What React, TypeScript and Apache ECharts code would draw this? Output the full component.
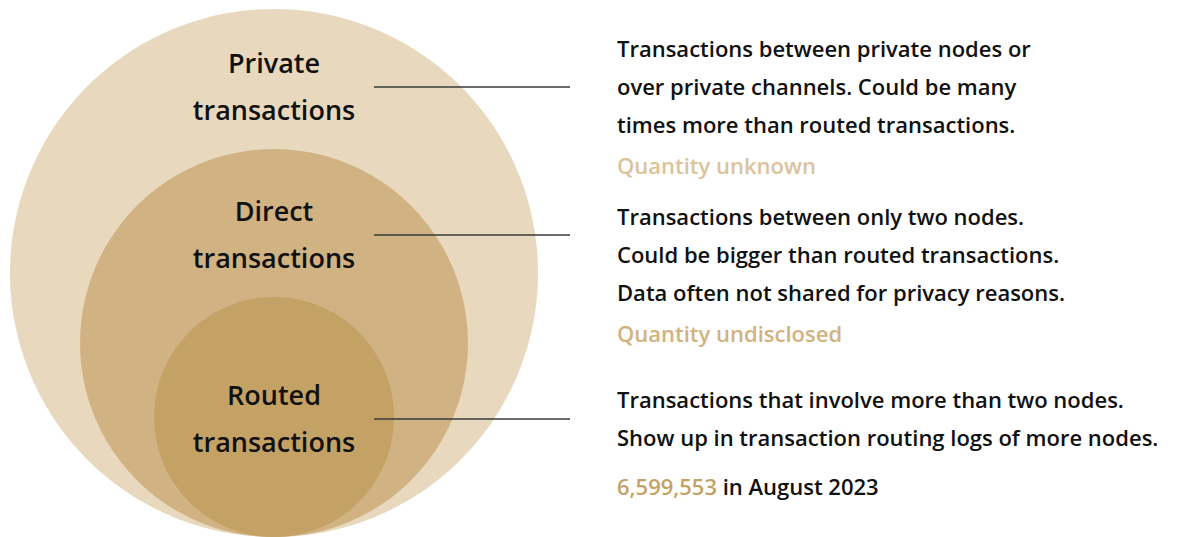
import React, { useEffect, useRef } from "react";
import * as echarts from "echarts";

const categories = ["Private", "Direct", "Routed"];
const categoryLabels = ["Private\ntransactions", "Direct\ntransactions", "Routed\ntransactions"];
const descriptions = [
  ["Transactions between private nodes or", "over private channels. Could be many", "times more than routed transactions."],
  ["Transactions between only two nodes.", "Could be bigger than routed transactions.", "Data often not shared for privacy reasons."],
  ["Transactions that involve more than two nodes.", "Show up in transaction routing logs of more nodes."],
];
const quantityNotes = ["Quantity unknown", "Quantity undisclosed", ""];
const routedCount = "6,599,553";
const routedPeriod = " in August 2023";

// layout
const CX = 274;
const BOTTOM = 537;
const RADII = [264, 194, 120];
const FILLS = ["#E8D9BE", "#D0B283", "#C4A266"];
const LABEL_Y = [62, 210, 394];
const LINE_Y = [87, 235, 419];
const DESC_Y = [48, 216, 399];
const LINE_GAP = 38;
const NOTE_COLORS = ["#DCC39A", "#D2B27E", "#C4A266"];
const FONT = "'Open Sans', 'Noto Sans', sans-serif";
const DESC_FONT = `600 22px ${FONT}`;
const LABEL_FONT = `600 27px ${FONT}`;

export default function App() {
  const ref = useRef<HTMLDivElement>(null);
  useEffect(() => {
    document.body.style.margin = "0";
    const chart = echarts.init(ref.current!, null, { renderer: "svg" });
    const elements: any[] = [];
    categories.forEach((c, i) => {
      elements.push({
        type: "circle",
        shape: { cx: CX, cy: BOTTOM - RADII[i], r: RADII[i] },
        style: { fill: FILLS[i] },
        z: i,
      });
    });
    categories.forEach((c, i) => {
      const lines = categoryLabels[i].split("\n");
      lines.forEach((t, j) => {
        elements.push({
          type: "text",
          x: CX,
          y: LABEL_Y[i] + j * 47,
          z: 10,
          style: {
            text: t,
            fill: "#111",
            font: LABEL_FONT,
            align: "center",
            verticalAlign: "middle",
          },
        });
      });
      elements.push({
        type: "line",
        z: 10,
        shape: { x1: 374, y1: LINE_Y[i], x2: 570, y2: LINE_Y[i] },
        style: { stroke: "#3a3a3a", lineWidth: 1.5 },
      });
      descriptions[i].forEach((t, j) => {
        elements.push({
          type: "text",
          x: 617,
          y: DESC_Y[i] + j * LINE_GAP,
          z: 10,
          style: {
            text: t,
            fill: "#111",
            font: DESC_FONT,
            align: "left",
            verticalAlign: "middle",
          },
        });
      });
      const noteY = DESC_Y[i] + (descriptions[i].length - 1) * LINE_GAP + 41;
      if (quantityNotes[i]) {
        elements.push({
          type: "text",
          x: 617,
          y: noteY,
          z: 10,
          style: {
            text: quantityNotes[i],
            fill: NOTE_COLORS[i],
            font: DESC_FONT,
            align: "left",
            verticalAlign: "middle",
          },
        });
      } else {
        elements.push({
          type: "text",
          x: 617,
          y: noteY + 8,
          z: 10,
          style: {
            text: `{a|${routedCount}}{b|${routedPeriod}}`,
            align: "left",
            verticalAlign: "middle",
            rich: {
              a: { fill: NOTE_COLORS[i], font: DESC_FONT },
              b: { fill: "#111", font: DESC_FONT },
            },
          },
        });
      }
    });
    chart.setOption({
      animation: false,
      backgroundColor: "#ffffff",
      graphic: { elements },
    });
    return () => chart.dispose();
  }, []);
  return <div ref={ref} style={{ width: 1179, height: 537 }} />;
}
